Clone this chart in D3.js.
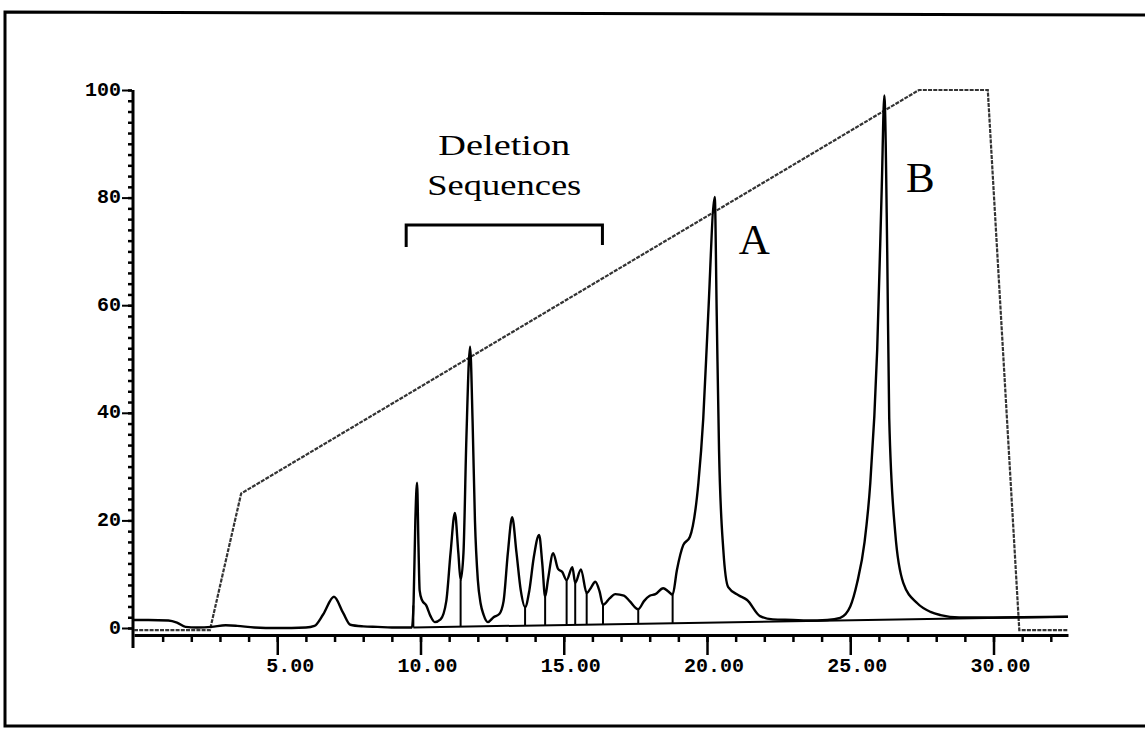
<!DOCTYPE html>
<html>
<head>
<meta charset="utf-8">
<script src="https://cdn.jsdelivr.net/npm/d3@7"></script>
<style>
  html, body { margin: 0; padding: 0; background: #fff; }
  svg { display: block; }
  .tick-label { font-family: "Liberation Mono", "DejaVu Sans Mono", monospace; font-size: 20px; fill: #000; }
  .annot { font-family: "Liberation Serif", "DejaVu Serif", serif; fill: #000; }
</style>
</head>
<body>
<svg id="chart" width="1145" height="729"></svg>
<script>
// Chromatogram: time (min) / absorbance (% full scale)
var traceTime = [0, 0.5, 1.2, 1.5, 1.8, 2.2, 2.7, 3.2, 3.6, 4.2, 5.0, 6.0, 6.3, 6.6, 6.98, 7.3, 7.55, 8.0, 8.5, 9.0, 9.7,
  9.76, 9.82, 9.88, 9.93, 9.97, 10.05, 10.2, 10.35, 10.5, 10.7, 10.9, 11.05, 11.2, 11.32, 11.4, 11.5, 11.6, 11.73, 11.82,
  11.9, 12.0, 12.1, 12.2, 12.35, 12.55, 12.75, 12.9, 13.05, 13.2, 13.35, 13.5, 13.65, 13.8, 13.95, 14.14, 14.25, 14.35,
  14.45, 14.63, 14.8, 14.95, 15.1, 15.3, 15.4, 15.6, 15.8, 15.95, 16.1, 16.25, 16.37, 16.6, 16.8, 17.1, 17.3, 17.6, 17.8,
  18.0, 18.2, 18.47, 18.65, 18.8, 18.95, 19.17, 19.4, 19.7, 19.87, 20.04, 20.27, 20.34, 20.42, 20.57, 20.74, 21.1, 21.4,
  21.85, 22.3, 23.0, 23.5, 24.2, 24.65, 25.0, 25.24, 25.5, 25.7, 25.94, 26.1, 26.19, 26.29, 26.36, 26.57, 26.85, 27.34,
  27.8, 28.15, 28.8, 30.0, 31.0, 32.6];
var traceValue = [1.5, 1.5, 1.4, 1.0, 0.2, 0.1, 0.2, 0.5, 0.4, 0.1, 0.0, 0.1, 0.4, 2.5, 5.8, 2.8, 0.6, 0.3, 0.2, 0.1, 0.1,
  5, 20, 27, 15, 7, 5.2, 4.2, 2.2, 1.1, 1.6, 5, 14, 21.4, 14, 8.9, 14, 35, 52.3, 38,
  20, 9, 4.5, 2.5, 1.1, 2.0, 2.6, 5, 14, 20.6, 14, 7, 3.9, 7, 13, 17.3, 12, 5.8,
  9, 13.9, 11, 10.4, 8.9, 11.3, 8.4, 10.9, 6.5, 7.5, 8.6, 6.8, 4.3, 5.5, 6.3, 6.0, 5.0, 3.5, 5.0,
  6.0, 6.3, 7.4, 6.8, 6.2, 10.8, 15.4, 16.9, 27, 39, 58, 80.1, 58, 33, 14.5, 7.6, 6.1, 5.2,
  2.2, 1.6, 1.5, 1.4, 1.5, 1.9, 4, 8.4, 16, 27, 51.7, 82, 99, 70, 39, 17.7, 8.4, 4.6,
  3.0, 2.4, 1.95, 1.95, 2.0, 2.1];

// Integration baseline and drop lines
var baselineTime = [9.75, 32.6];
var baselineValue = [0.1, 2.1];
var dropTimes = [9.75, 11.4, 13.65, 14.35, 15.1, 15.4, 15.8, 16.37, 17.6, 18.8];

// Gradient (%B)
var gradientTime = [0, 2.65, 3.74, 27.4, 29.8, 30.9, 32.6];
var gradientValue = [-0.4, -0.4, 25, 100, 100, -0.4, -0.4];

// Axes
var xMajorTicks = [5, 10, 15, 20, 25, 30];
var xMinorTicks = d3.range(1, 33);
var yMajorTicks = [0, 20, 40, 60, 80, 100];
var yMinorTicks = d3.range(0, 101, 2);

// Annotations
var bracketRange = [9.5, 16.35];
var peakLabels = [{text: "A", t: 21.65, v: 69.5}, {text: "B", t: 27.45, v: 81}];

var svg = d3.select("#chart");

// frame
svg.append("path")
  .attr("d", "M1150,15 L5,12 L5,726 L1150,726")
  .attr("fill", "none").attr("stroke", "#000").attr("stroke-width", 3);

var x = d3.scaleLinear().domain([0, 32.6]).range([134, 1068]);
var y = d3.scaleLinear().domain([0, 100]).range([628, 90]);
var xAxisY = y(0) + 7;

// x axis
var gxMinor = svg.append("g").attr("transform", "translate(0," + xAxisY + ")")
  .call(d3.axisBottom(x).tickValues(xMinorTicks).tickSize(7).tickSizeOuter(0).tickFormat(""));
gxMinor.select(".domain").attr("stroke-width", 3);
gxMinor.selectAll(".tick line").attr("stroke-width", 2.5);

var gxMajor = svg.append("g").attr("transform", "translate(0," + xAxisY + ")")
  .call(d3.axisBottom(x).tickValues(xMajorTicks).tickSize(20).tickSizeOuter(0).tickFormat(""));
gxMajor.select(".domain").remove();
gxMajor.selectAll(".tick line").attr("stroke-width", 2.5);

// x labels: integer part ends at tick, decimal part starts at tick
var xl = svg.append("g");
xl.selectAll("text.int").data(xMajorTicks).join("text")
  .attr("class", "tick-label").attr("x", d => x(d) + 1).attr("y", xAxisY + 37)
  .attr("text-anchor", "end").text(d => String(d));
xl.selectAll("text.dec").data(xMajorTicks).join("text")
  .attr("class", "tick-label").attr("x", d => x(d) + 1).attr("y", xAxisY + 37)
  .attr("text-anchor", "start").text(".00");

// y axis
svg.append("line")
  .attr("x1", x(0) - 1).attr("x2", x(0) - 1)
  .attr("y1", y(100)).attr("y2", xAxisY + 13)
  .attr("stroke", "#000").attr("stroke-width", 3);

var gyMinor = svg.append("g").attr("transform", "translate(" + (x(0) - 2) + ",0)")
  .call(d3.axisLeft(y).tickValues(yMinorTicks).tickSize(4).tickSizeOuter(0).tickFormat(""));
gyMinor.select(".domain").remove();
gyMinor.selectAll(".tick line").attr("stroke-width", 2.5);

var gyMajor = svg.append("g").attr("transform", "translate(" + (x(0) - 2) + ",0)")
  .call(d3.axisLeft(y).tickValues(yMajorTicks).tickSize(10).tickSizeOuter(0).tickFormat(d3.format("d")));
gyMajor.select(".domain").remove();
gyMajor.selectAll(".tick line").attr("stroke-width", 2);
gyMajor.selectAll(".tick text")
  .attr("class", "tick-label").attr("x", -11).attr("dy", "0.25em")
  .style("font-family", "Liberation Mono, DejaVu Sans Mono, monospace").style("font-size", "20px");
svg.selectAll(".tick-label").style("font-weight", "bold");

// gradient line
var gradientPts = gradientTime.map((t, i) => [t, gradientValue[i]]);
svg.append("path").datum(gradientPts)
  .attr("d", d3.line().x(d => x(d[0])).y(d => y(d[1])))
  .attr("fill", "none").attr("stroke", "#333").attr("stroke-width", 2.2)
  .attr("stroke-dasharray", "4 1.2");

// integration baseline
var baseAt = d3.scaleLinear().domain(baselineTime).range(baselineValue);
svg.append("path").datum(baselineTime)
  .attr("d", d3.line().x(d => x(d)).y(d => y(baseAt(d))))
  .attr("fill", "none").attr("stroke", "#000").attr("stroke-width", 2);

// drop lines
var traceAt = d3.scaleLinear().domain(traceTime).range(traceValue);
svg.append("g").selectAll("line").data(dropTimes).join("line")
  .attr("x1", d => x(d)).attr("x2", d => x(d))
  .attr("y1", d => y(traceAt(d))).attr("y2", d => y(baseAt(d)))
  .attr("stroke", "#000").attr("stroke-width", 2);

// chromatogram trace
var tracePts = traceTime.map((t, i) => [t, traceValue[i]]);
svg.append("path").datum(tracePts)
  .attr("d", d3.line().x(d => x(d[0])).y(d => y(d[1])).curve(d3.curveMonotoneX))
  .attr("fill", "none").attr("stroke", "#000").attr("stroke-width", 2.4)
  .attr("stroke-linejoin", "round");

// Deletion sequences annotation
var bx0 = x(bracketRange[0]), bx1 = x(bracketRange[1]);
svg.append("path")
  .attr("d", "M" + bx0 + ",247 L" + bx0 + ",225 L" + bx1 + ",225 L" + bx1 + ",245")
  .attr("fill", "none").attr("stroke", "#000").attr("stroke-width", 3);
var bmid = (bx0 + bx1) / 2;
svg.append("text").attr("class", "annot").attr("x", bmid).attr("y", 155)
  .attr("text-anchor", "middle").attr("font-size", 30)
  .attr("textLength", 132).attr("lengthAdjust", "spacingAndGlyphs").text("Deletion");
svg.append("text").attr("class", "annot").attr("x", bmid).attr("y", 195)
  .attr("text-anchor", "middle").attr("font-size", 30)
  .attr("textLength", 154).attr("lengthAdjust", "spacingAndGlyphs").text("Sequences");

svg.append("g").selectAll("text").data(peakLabels).join("text")
  .attr("class", "annot").attr("x", d => x(d.t)).attr("y", d => y(d.v))
  .attr("text-anchor", "middle").attr("font-size", 43).text(d => d.text);
</script>
</body>
</html>
